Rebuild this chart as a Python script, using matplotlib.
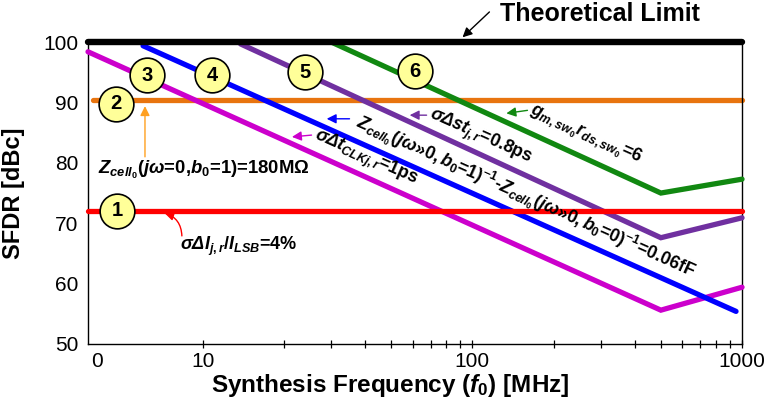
import numpy as np
import matplotlib
matplotlib.use("Agg")
import matplotlib.pyplot as plt
from matplotlib.ticker import FixedLocator, NullFormatter

plt.rcParams['font.family'] = ['Liberation Sans', 'DejaVu Sans']
plt.rcParams['mathtext.fontset'] = 'custom'
plt.rcParams['mathtext.rm'] = 'Liberation Sans:bold'
plt.rcParams['mathtext.it'] = 'Liberation Sans:bold:italic'
plt.rcParams['mathtext.bf'] = 'Liberation Sans:bold'
plt.rcParams['mathtext.sf'] = 'Liberation Sans:bold:italic'

# SFDR limits vs synthesis frequency (MHz, dBc)
f_lo, f_hi = 3.75, 1000.0
limit_f = [f_lo, f_hi]
limit_db = [100.0, 100.0]
mismatch_f = [f_lo, f_hi]          # 1: current mismatch
mismatch_db = [72.1, 72.1]
zout_f = [3.9, f_hi]               # 2: output impedance
zout_db = [90.4, 90.4]
clk_f = [f_lo, 500.0, f_hi]        # 3: clock skew
clk_db = [98.4, 55.6, 59.4]
cap_f = [6.0, 950.0]               # 4: output capacitance
cap_db = [99.4, 55.4]
sw_f = [13.8, 500.0, f_hi]         # 5: switch timing
sw_db = [99.7, 67.6, 70.9]
gain_f = [30.0, 500.0, f_hi]       # 6: switch gain
gain_db = [100.0, 75.0, 77.3]

badge_num = ['1', '2', '3', '4', '5', '6']
badge_f = [4.8, 4.76, 6.2, 10.8, 24.0, 61.0]
badge_db = [72.1, 89.8, 94.5, 94.5, 95.0, 95.2]

xtick_pos = [4.05, 10, 100, 1000]
xtick_lab = ['0', '10', '100', '1000']
xminor_pos = [20, 30, 40, 50, 60, 70, 80, 90, 200, 300, 400, 500, 600, 700, 800, 900]
ytick_pos = [50, 60, 70, 80, 90, 100]

fig = plt.figure(figsize=(7.66, 4.09), dpi=100)
ax = fig.add_axes([0.1149, 0.159, 0.8538, 0.738])
ax.set_xscale('log')
ax.set_xlim(f_lo, f_hi)
ax.set_ylim(50, 100)

lw = 3.8
kw = dict(solid_capstyle='round', solid_joinstyle='miter', clip_on=False)
ax.plot(zout_f, zout_db, color='#E8740F', lw=lw, zorder=2, **kw)
ax.plot(clk_f, clk_db, color='#CC00CC', lw=lw, zorder=3, **kw)
ax.plot(cap_f, cap_db, color='#0000FF', lw=lw, zorder=3, **kw)
ax.plot(sw_f, sw_db, color='#7030A0', lw=lw, zorder=3, **kw)
ax.plot(gain_f, gain_db, color='#118811', lw=lw, zorder=3, **kw)
ax.plot(mismatch_f, mismatch_db, color='#FF0000', lw=lw, zorder=4, **kw)
ax.plot(limit_f, limit_db, color='black', lw=4.6, zorder=5, **kw)

# numbered badges
ax.plot(badge_f, badge_db, 'o', ms=25, mfc='#FFFF99', mec='black', mew=1.2,
        zorder=6, clip_on=False)
for n, f, d in zip(badge_num, badge_f, badge_db):
    ax.text(f, d, n, ha='center', va='center', fontsize=14.5, fontweight='bold',
            zorder=7)

# axes styling
for s in ['left', 'bottom', 'right']:
    ax.spines[s].set_linewidth(1.0)
ax.spines['top'].set_visible(False)
ax.set_xticks(xtick_pos)
ax.set_xticklabels(xtick_lab)
ax.xaxis.set_minor_locator(FixedLocator(xminor_pos))
ax.xaxis.set_minor_formatter(NullFormatter())
ax.set_yticks(ytick_pos)
ax.tick_params(axis='x', which='both', direction='inout', length=6, width=0.9,
               labelsize=15, pad=3)
ax.tick_params(axis='y', length=0, labelsize=15, pad=7)
ax.xaxis.get_major_ticks()[0].tick1line.set_visible(False)
ax.set_xlabel(r'Synthesis Frequency ($f_0$) [MHz]', fontsize=17.5, fontweight='bold')
ax.xaxis.set_label_coords(0.462, -0.092)
ax.set_ylabel('SFDR [dBc]', fontsize=17, fontweight='bold')
ax.yaxis.set_label_coords(-0.096, 0.5)


def seg_angle(fa, da, fb, db):
    p = ax.transData.transform([(fa, da), (fb, db)])
    return np.degrees(np.arctan2(p[1, 1] - p[0, 1], p[1, 0] - p[0, 0]))


ang = seg_angle(cap_f[0], cap_db[0], cap_f[1], cap_db[1])
tkw = dict(fontsize=12.8, fontweight='bold', rotation=ang, rotation_mode='anchor',
           ha='center', va='center', zorder=8)


def arrow(head, tail, color, rad=0.0):
    ax.annotate('', xy=head, xytext=tail, annotation_clip=False,
                arrowprops=dict(arrowstyle='-|>', color=color, lw=1.0,
                                mutation_scale=14, shrinkA=0, shrinkB=0,
                                connectionstyle='arc3,rad=%g' % rad))


# theoretical limit
ax.text(297, 104.6, 'Theoretical Limit', ha='center', va='center', fontsize=18,
        fontweight='bold', clip_on=False)
arrow((91.9, 100.8), (115.6, 105.0), 'black')

# impedance label
ax.text(4.08, 78.8, r'$Z_{cell_0}(j\omega$=0,$b_0$=1)=180MΩ', ha='left',
        va='center', fontsize=13.3, fontweight='bold')
arrow((6.1, 89.4), (6.1, 81.0), '#FFA020')

# mismatch label
ax.text(8.2, 66.1, r'$\sigma\mathsf{\Delta}I_{j,r}/I_{LSB}$=4%', ha='left',
        va='center', fontsize=13, fontweight='bold')
arrow((7.2, 71.7), (8.36, 67.9), '#FF0000', rad=0.35)

# labels along the sloped lines
ax.text(158, 74.3, r'$Z_{cell_0}(j\omega$»$0,b_0$=1)$^{-1}$-$Z_{cell_0}(j\omega$»$0,b_0$=0)$^{-1}$=0.06fF', **tkw)
arrow((28.8, 87.3), (35.0, 87.3), '#0000FF')

ax.text(40.2, 80.8, r'$\sigma\mathsf{\Delta}t_{CLKj,r}$=1ps', **tkw)
arrow((21.4, 84.3), (25.3, 84.6), '#CC00CC')

ax.text(107, 84.2, r'$\sigma\mathsf{\Delta}st_{j,r}$=0.8ps', **tkw)
arrow((58.5, 87.9), (67.6, 87.9), '#7030A0')

ax.text(262, 84.6, r'$g_{m,sw_0}r_{ds,sw_0}$=6', **tkw)
arrow((133.6, 88.2), (160, 88.7), '#118811')

fig.savefig('out.png', dpi=100)
